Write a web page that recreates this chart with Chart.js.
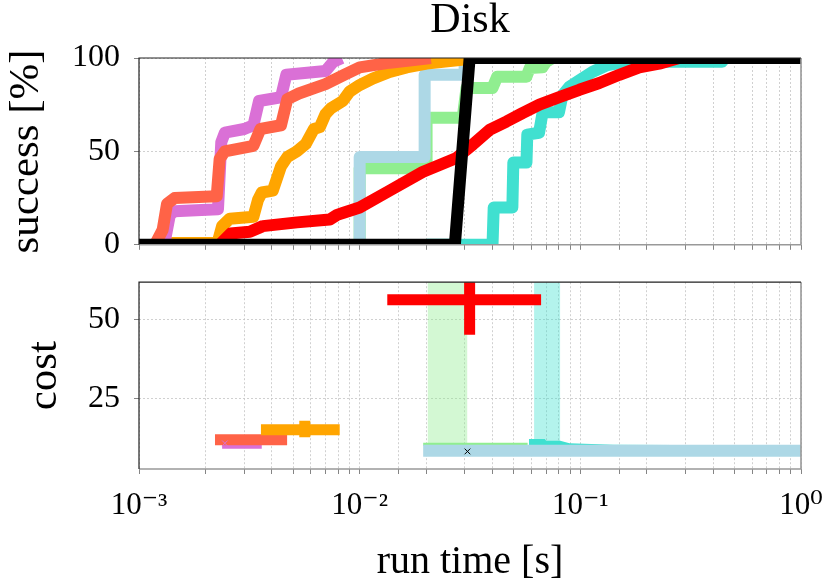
<!DOCTYPE html>
<html>
<head>
<meta charset="utf-8">
<script src="https://cdn.jsdelivr.net/npm/chart.js@4.4.1/dist/chart.umd.min.js"></script>
<style>
  html, body { margin: 0; padding: 0; background: #fff; overflow: hidden; width: 831px; height: 588px; }
  #top-chart { position: absolute; left: 0; top: 0; }
  #bottom-chart { position: absolute; left: 0; top: 249px; }
</style>
</head>
<body>
<canvas id="top-chart" width="831" height="278"></canvas>
<canvas id="bottom-chart" width="836" height="339"></canvas>
<script>
// run time axis (log)
const decadeValues = [0.001, 0.01, 0.1, 1];
const decadeLabels = ['10⁻³', '10⁻²', '10⁻¹', '10⁰'];
const successTicks = [0, 50, 100];
const costTicks = [25, 50];

// success curves: run time [s] / success [%]
const orchidTime = [0.00130, 0.00138, 0.00145, 0.00228, 0.00236, 0.00245, 0.00300, 0.00330, 0.00350, 0.00440, 0.00465, 0.00700, 0.00760, 0.00830];
const orchidSuccess = [0, 16, 18, 19, 55, 60, 62, 64, 77, 79, 91, 93, 98, 100];

const tomatoTime = [0.00118, 0.00128, 0.00134, 0.00145, 0.00225, 0.00232, 0.00245, 0.00300, 0.00330, 0.00355, 0.00440, 0.00470, 0.00530, 0.00700, 0.00850, 0.01000, 0.01370, 0.01800, 0.02100];
const tomatoSuccess = [0, 8, 22, 25, 26, 46, 50, 52, 53, 62, 64, 78, 81, 86, 91, 95, 97.5, 99, 100];

const orangeTime = [0.00135, 0.00227, 0.00238, 0.00258, 0.00330, 0.00346, 0.00360, 0.00404, 0.00440, 0.00470, 0.00519, 0.00570, 0.00620, 0.00660, 0.00700, 0.00740, 0.00838, 0.00900, 0.01000, 0.01145, 0.01367, 0.01632, 0.02010, 0.02900, 0.03000];
const orangeSuccess = [1, 1, 10, 14, 15, 24, 28, 29, 42, 47, 50, 54, 62, 63, 70, 73, 77, 82, 85.5, 89, 92.5, 95, 97, 99, 100];

const redTime = [0.00232, 0.00260, 0.00318, 0.00364, 0.00520, 0.00731, 0.00790, 0.00838, 0.0100, 0.01367, 0.01928, 0.02747, 0.03246, 0.03874, 0.04626, 0.05465, 0.06524, 0.08035, 0.09896, 0.1219, 0.1502, 0.1849, 0.2278, 0.2805];
const redSuccess = [0, 6, 7, 10, 12, 13.5, 16, 17, 20, 29, 39, 46.5, 53.5, 61.5, 66, 70.5, 75, 79, 83, 86.6, 91, 95, 97, 100];

const lightblueTime = [0.0100, 0.0100, 0.0197, 0.0197, 0.0299, 0.0299];
const lightblueSuccess = [0, 47, 47, 91, 91, 100];

const lightgreenTime = [0.0100, 0.0100, 0.0201, 0.0201, 0.0293, 0.0305, 0.0400, 0.0420, 0.0570, 0.0590, 0.0673, 0.0700, 0.0747];
const lightgreenSuccess = [0, 41, 41, 68, 68, 84, 84, 90, 90, 94.6, 95, 98, 100];

const turquoiseTime = [0.0201, 0.0400, 0.0405, 0.0492, 0.0497, 0.0570, 0.0575, 0.0650, 0.0675, 0.0800, 0.0830, 0.0892, 0.0990, 0.1133, 0.1311, 0.1615, 0.4390, 0.4500];
const turquoiseSuccess = [0, 0, 20, 20, 44, 44, 59, 60, 71, 71, 80, 84.6, 88, 92.5, 96, 98, 98, 100];

const blackTime = [0.001, 0.0270, 0.0315, 1.0];
const blackSuccess = [0, 0, 100, 100];

// cost panel: [low, median, high]
const redRunTime = [0.01334, 0.0315, 0.0664];
const redCost = [45.2, 56.4, 75];
const orangeRunTime = [0.00357, 0.00564, 0.00812];
const orangeCost = [12.5, 14.9, 17.8];
const tomatoRunTime = [0.00221, 0.00321, 0.00469];
const tomatoCost = [11.7, 11.7, 11.7];
const orchidRunTime = [0.00238, 0.00245, 0.00360];
const orchidCost = [10.4, 10.6, 10.4];

// cost over time
const lightblueCostTime = [0.0194, 1.0];
const lightblueCost = [8.2, 8.2];
const blackMarkTime = [0.0308];
const blackMarkCost = [8.0];
const lightgreenCostTime = [0.0194, 0.0577];
const lightgreenCost = [10.3, 10.3];
const lightgreenBandTime = [0.0203, 0.0308];
const lightgreenBandCost = [10.4, 10.4];
const turquoiseCostTime = [0.0585, 0.0690, 0.0700, 0.0811, 0.0893, 0.141, 1.0];
const turquoiseCost = [12.0, 12.0, 11.45, 11.45, 10.6, 10.1, 9.9];
const turquoiseBandTime = [0.0617, 0.0811];
const turquoiseBandCost = [11.1, 11.1];

const FONT = '"Liberation Serif", "DejaVu Serif", serif';
Chart.defaults.font.family = FONT;
Chart.defaults.color = '#000';

const pts = (xs, ys) => xs.map((x, i) => ({ x: x, y: ys[i] }));

const curve = (xs, ys, color) => ({
    data: pts(xs, ys), borderColor: color, borderWidth: 12,
    borderJoinStyle: 'round', pointRadius: 0, fill: false
});
const hBar = (t, c, color) => ({
    data: [{ x: t[0], y: c[1] }, { x: t[2], y: c[1] }],
    borderColor: color, borderWidth: 11, pointRadius: 0, fill: false
});
const vBar = (t, c, color) => ({
    data: [{ x: t[1], y: c[0] }, { x: t[1], y: c[2] }],
    borderColor: color, borderWidth: 11, pointRadius: 0, fill: false
});
const marker = (xs, ys, color) => ({
    data: pts(xs, ys), showLine: false, pointStyle: 'crossRot',
    pointRadius: 4, pointBorderColor: color, pointBorderWidth: 1, fill: false
});
const band = (xs, ys, color) => ({
    data: pts(xs, ys), borderWidth: 0, borderColor: 'rgba(0,0,0,0)',
    pointRadius: 0, fill: { value: 90 }, backgroundColor: color
});

const decadeLabel = (v) => {
    for (let i = 0; i < decadeValues.length; i++) {
        if (Math.abs(v / decadeValues[i] - 1) < 1e-6) return decadeLabels[i];
    }
    return '';
};

const framePlugin = {
    id: 'frame',
    afterDatasetsDraw(chart) {
        const { ctx, chartArea: a } = chart;
        ctx.save();
        ctx.strokeStyle = '#999';
        ctx.lineWidth = 1.6;
        ctx.beginPath();
        ctx.moveTo(a.right, a.top); ctx.lineTo(a.right, a.bottom); ctx.lineTo(a.left, a.bottom);
        ctx.stroke();
        ctx.strokeStyle = '#222';
        ctx.lineWidth = 1.2;
        ctx.beginPath();
        ctx.moveTo(a.left, a.bottom); ctx.lineTo(a.left, a.top); ctx.lineTo(a.right, a.top);
        ctx.stroke();
        ctx.restore();
    }
};

const gridOpts = { color: '#c4c4c4', lineWidth: 0.8, tickLength: 5, tickColor: '#666' };

const xScale = (showLabels, height) => ({
    type: 'logarithmic', min: 0.001, max: 1,
    grid: gridOpts,
    border: { display: false, dash: [2, 2] },
    ticks: {
        autoSkip: false, maxRotation: 0, minRotation: 0, padding: 13,
        font: { size: 31 },
        callback: (v) => showLabels ? decadeLabel(v) : ''
    },
    title: showLabels ? { display: true, text: 'run time [s]', font: { size: 40 }, padding: { top: 2, bottom: 2 } } : { display: false },
    afterFit: (s) => { s.height = height; }
});

const yScale = (min, max, tickValues, label, width) => ({
    type: 'linear', min: min, max: max,
    grid: gridOpts,
    border: { display: false, dash: [2, 2] },
    ticks: { padding: 14, font: { size: 32 } },
    afterBuildTicks: (s) => { s.ticks = tickValues.map(v => ({ value: v })); },
    title: { display: true, text: label, font: { size: 43 }, padding: { top: 1, bottom: 0 } },
    afterFit: (s) => { s.width = width; }
});

new Chart(document.getElementById('top-chart'), {
    type: 'line',
    data: {
        datasets: [
            curve(blackTime, blackSuccess, '#000000'),
            curve(redTime, redSuccess, '#FF0000'),
            curve(tomatoTime, tomatoSuccess, '#FF6347'),
            curve(orchidTime, orchidSuccess, '#DA70D6'),
            curve(orangeTime, orangeSuccess, '#FFA500'),
            curve(turquoiseTime, turquoiseSuccess, '#40E0D0'),
            curve(lightblueTime, lightblueSuccess, '#ADD8E6'),
            curve(lightgreenTime, lightgreenSuccess, '#90EE90')
        ]
    },
    options: {
        responsive: false,
        animation: false,
        layout: { padding: { left: 0, right: 30, top: 0, bottom: 0 } },
        plugins: {
            legend: { display: false },
            tooltip: { enabled: false },
            title: {
                display: true, text: 'Disk', fullSize: false,
                font: { size: 42, weight: 'normal', lineHeight: 1.0 },
                padding: { top: 0, bottom: 16 }
            }
        },
        scales: {
            x: xScale(false, 17),
            y: yScale(0, 100, successTicks, 'success [%]', 139)
        }
    },
    plugins: [framePlugin]
});

new Chart(document.getElementById('bottom-chart'), {
    type: 'line',
    data: {
        datasets: [
            vBar(redRunTime, redCost, '#FF0000'),
            hBar(redRunTime, redCost, '#FF0000'),
            marker(blackMarkTime, blackMarkCost, '#000000'),
            Object.assign(curve(lightblueCostTime, lightblueCost, '#ADD8E6'), { borderWidth: 12 }),
            {
                data: pts(turquoiseCostTime, turquoiseCost), borderWidth: 0, borderColor: 'rgba(0,0,0,0)',
                pointRadius: 0, fill: { value: 8 }, backgroundColor: '#40E0D0'
            },
            Object.assign(curve(lightgreenCostTime, lightgreenCost, '#90EE90'), { borderWidth: 3 }),
            marker([orchidRunTime[1]], [orchidCost[1]], '#DA70D6'),
            vBar(orangeRunTime, orangeCost, '#FFA500'),
            hBar(orangeRunTime, orangeCost, '#FFA500'),
            hBar(tomatoRunTime, tomatoCost, '#FF6347'),
            hBar(orchidRunTime, orchidCost, '#DA70D6'),
            band(turquoiseBandTime, turquoiseBandCost, 'rgba(64,224,208,0.4)'),
            band(lightgreenBandTime, lightgreenBandCost, 'rgba(144,238,144,0.4)')
        ]
    },
    options: {
        responsive: false,
        animation: false,
        layout: { padding: { left: 18, right: 35, top: 0, bottom: 0 } },
        plugins: {
            legend: { display: false },
            tooltip: { enabled: false }
        },
        scales: {
            x: xScale(true, 119),
            y: yScale(2.4, 62, costTicks, 'cost', 121)
        }
    },
    plugins: [framePlugin]
});
</script>
</body>
</html>
